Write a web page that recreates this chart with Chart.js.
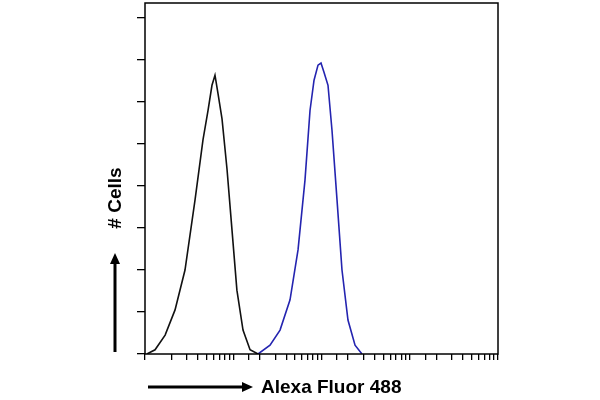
<!DOCTYPE html>
<html>
<head>
<meta charset="utf-8">
<script src="https://cdn.jsdelivr.net/npm/chart.js@4"></script>
<style>
  html, body { margin: 0; padding: 0; background: #fff; }
  #wrap { width: 600px; height: 400px; }
</style>
</head>
<body>
<div id="wrap"><canvas id="chart"></canvas></div>
<script>
'use strict';
// control (black) histogram
const controlX = [1.05, 1.30, 1.69, 2.19, 2.84, 3.69, 4.54, 5.18, 5.74, 6.21, 6.72, 7.46, 8.5, 9.68, 11.0, 12.9, 15.5, 19.1];
const controlY = [0, 0.1, 0.45, 1.05, 2.0, 3.67, 5.1, 5.8, 6.4, 6.64, 6.2, 5.6, 4.4, 2.95, 1.52, 0.57, 0.1, 0];
// antibody (blue) histogram
const stainX = [19.1, 26.1, 33.9, 44.0, 54.2, 65.0, 74.1, 82.3, 91.3, 98.7, 106.7, 118.5, 131.5, 149.9, 170.7, 199.5, 239.9, 287.5];
const stainY = [0, 0.21, 0.57, 1.29, 2.48, 4.14, 5.8, 6.52, 6.88, 6.93, 6.71, 6.4, 5.33, 3.67, 2.0, 0.81, 0.21, 0];
const yTicks = [0, 1, 2, 3, 4, 5, 6, 7, 8];

const toPoints = (xs, ys) => xs.map((x, i) => ({x: x, y: ys[i]}));

const decorations = {
  id: 'decorations',
  afterDraw(chart) {
    const ctx = chart.ctx;
    const a = chart.chartArea;
    ctx.save();
    ctx.strokeStyle = '#000';
    ctx.lineWidth = 1.5;
    ctx.strokeRect(a.left, a.top, a.right - a.left, a.bottom - a.top);

    ctx.fillStyle = '#000';
    ctx.lineWidth = 3;
    // x arrow
    ctx.beginPath();
    ctx.moveTo(148, 387);
    ctx.lineTo(244, 387);
    ctx.stroke();
    ctx.beginPath();
    ctx.moveTo(253, 387);
    ctx.lineTo(242, 382);
    ctx.lineTo(242, 392);
    ctx.closePath();
    ctx.fill();
    // y arrow
    ctx.beginPath();
    ctx.moveTo(115, 352);
    ctx.lineTo(115, 262);
    ctx.stroke();
    ctx.beginPath();
    ctx.moveTo(115, 253);
    ctx.lineTo(110, 264);
    ctx.lineTo(120, 264);
    ctx.closePath();
    ctx.fill();

    ctx.font = 'bold 19px "Liberation Sans", Arial, sans-serif';
    ctx.textBaseline = 'middle';
    ctx.textAlign = 'left';
    ctx.fillText('Alexa Fluor 488', 261, 388);
    ctx.translate(116, 198);
    ctx.rotate(-Math.PI / 2);
    ctx.textAlign = 'center';
    ctx.fillText('# Cells', 0, 0);
    ctx.restore();
  }
};

new Chart(document.getElementById('chart'), {
  type: 'scatter',
  data: {
    datasets: [{
      data: toPoints(controlX, controlY),
      showLine: true,
      borderColor: '#111',
      borderWidth: 1.6,
      pointRadius: 0
    }, {
      data: toPoints(stainX, stainY),
      showLine: true,
      borderColor: '#2424b0',
      borderWidth: 1.6,
      pointRadius: 0
    }]
  },
  options: {
    responsive: true,
    maintainAspectRatio: false,
    animation: false,
    layout: { padding: { left: 0, top: 3, right: 102, bottom: 0 } },
    plugins: { legend: { display: false }, tooltip: { enabled: false } },
    scales: {
      x: {
        type: 'logarithmic',
        min: 1,
        max: 10000,
        afterFit(scale) { scale.height = 46; },
        ticks: { display: false },
        grid: { drawOnChartArea: false, tickLength: 6, color: '#000', lineWidth: 1.3 },
        border: { display: false }
      },
      y: {
        min: 0,
        max: 8.36,
        afterFit(scale) { scale.width = 145; },
        afterBuildTicks(scale) { scale.ticks = yTicks.map(v => ({value: v})); },
        ticks: { display: false },
        grid: { drawOnChartArea: false, tickLength: 8, color: '#000', lineWidth: 1.3 },
        border: { display: false }
      }
    }
  },
  plugins: [decorations]
});
</script>
</body>
</html>
